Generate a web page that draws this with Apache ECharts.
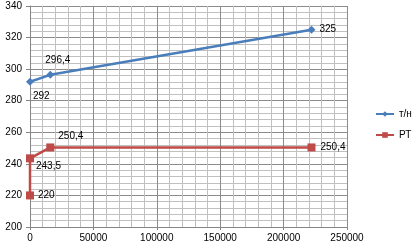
<!DOCTYPE html>
<html><head><meta charset="utf-8">
<script src="https://cdn.jsdelivr.net/npm/echarts@6/dist/echarts.min.js"></script>
<style>html,body{margin:0;padding:0;background:#fff}#c{width:412px;height:245px}</style>
</head><body><div id="c"></div>
<script>
const seriesNames = ['т/н', 'РТ'];
const thX = [0, 16000, 222000];
const thY = [292, 296.4, 325];
const rtX = [0, 0, 16000, 222000];
const rtY = [220, 243.5, 250.4, 250.4];
const xTicks = [0, 50000, 100000, 150000, 200000, 250000];
const yTicks = [200, 220, 240, 260, 280, 300, 320, 340];

const thLabelOffset = [[-6, 14], [-14, -15], [-1, 0]];
const rtLabelOffset = [[-1, 0], [-3, 8], [-1, -11], [0, 0]];

function fmt(v){ return String(v).replace('.', ','); }
function build(xs, ys, offs){
  return xs.map((x, i) => ({value: [x, ys[i]], label: {show: true, position: 'right', offset: offs[i]}}));
}
const chart = echarts.init(document.getElementById('c'), null, {renderer: 'canvas'});
const font = {fontFamily: 'Liberation Sans, Arial, sans-serif', fontSize: 10, color: '#000'};
const xMin = xTicks[0], xMax = xTicks[xTicks.length - 1];
const yMin = yTicks[0], yMax = yTicks[yTicks.length - 1];
chart.setOption({
  animation: false,
  grid: {left: 30, right: 65, top: 6, bottom: 18, containLabel: false, show: false},
  legend: {
    orient: 'vertical', left: 375, top: 109, itemGap: 11, itemWidth: 18, itemHeight: 7,
    padding: 0, textStyle: font,
    data: seriesNames
  },
  xAxis: [{
    type: 'value', min: xMin, max: xMax, interval: 50000, z: 2,
    axisLine: {show: true, lineStyle: {color: '#868686', width: 1}},
    axisTick: {show: true, length: 3, lineStyle: {color: '#868686'}},
    axisLabel: Object.assign({}, font, {margin: 6, formatter: v => String(v)}),
    splitLine: {show: true, lineStyle: {color: '#8c8c8c', width: 1}},
    minorTick: {show: true, splitNumber: 5, length: 0},
    minorSplitLine: {show: true, lineStyle: {color: '#c0c0c0', width: 1}}
  }, {
    type: 'value', min: xMin, max: xMax, interval: 10000, position: 'bottom', z: 1, show: true,
    axisLine: {show: false}, axisTick: {show: false}, axisLabel: {show: false},
    splitLine: {show: true, lineStyle: {color: '#c0c0c0', width: 1}}
  }],
  yAxis: [{
    type: 'value', min: yMin, max: yMax, interval: 20, z: 2,
    axisLine: {show: true, lineStyle: {color: '#868686', width: 1}},
    axisTick: {show: true, length: 4, lineStyle: {color: '#868686'}},
    axisLabel: Object.assign({}, font, {margin: 8, formatter: v => String(v)}),
    splitLine: {show: true, lineStyle: {color: '#8c8c8c', width: 1}},
    minorTick: {show: true, splitNumber: 5, length: 0},
    minorSplitLine: {show: true, lineStyle: {color: '#c0c0c0', width: 1}}
  }, {
    type: 'value', min: yMin, max: yMax, interval: 4, position: 'left', z: 1, show: true,
    axisLine: {show: false}, axisTick: {show: false}, axisLabel: {show: false},
    splitLine: {show: true, lineStyle: {color: '#c0c0c0', width: 1}}
  }],
  series: [
    {
      name: seriesNames[0], type: 'line', symbol: 'diamond', symbolSize: 8, z: 5,
      itemStyle: {color: '#4A7EBB'}, lineStyle: {color: '#4A7EBB', width: 2.5},
      label: Object.assign({show: true, formatter: p => fmt(p.value[1])}, font),
      data: build(thX, thY, thLabelOffset)
    },
    {
      name: seriesNames[1], type: 'line', symbol: 'rect', symbolSize: 8, z: 5,
      itemStyle: {color: '#BE4B48'}, lineStyle: {color: '#BE4B48', width: 2.5},
      label: Object.assign({show: true, formatter: p => fmt(p.value[1])}, font),
      data: build(rtX, rtY, rtLabelOffset)
    }
  ]
});
</script></body></html>
